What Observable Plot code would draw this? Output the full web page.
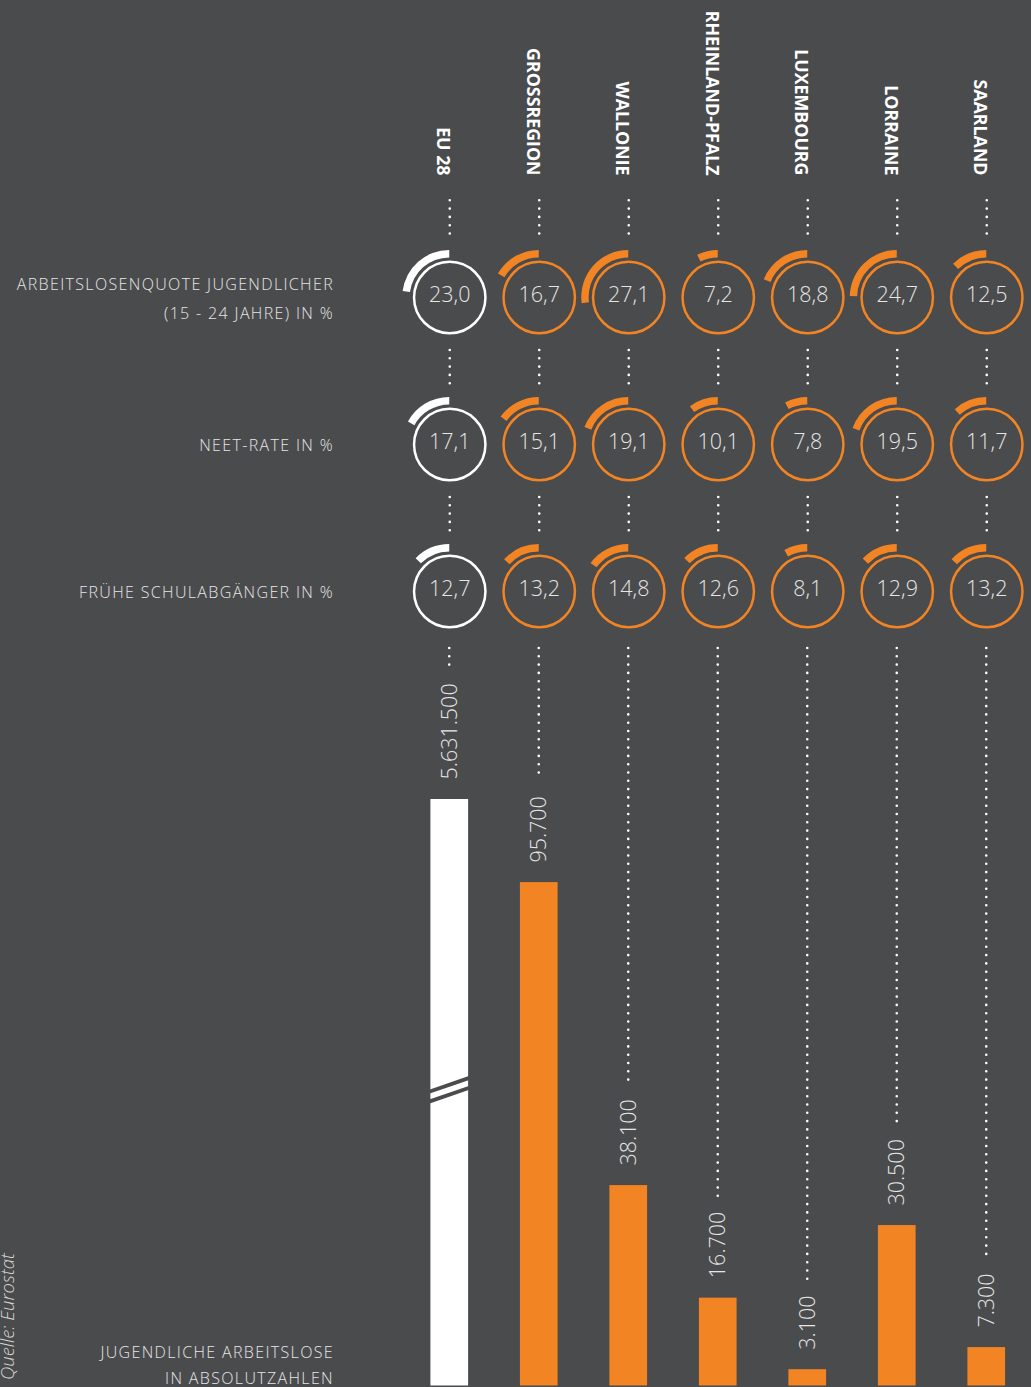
<!DOCTYPE html>
<html>
<head>
<meta charset="utf-8">
<script src="https://cdn.jsdelivr.net/npm/d3@7"></script>
<script src="https://cdn.jsdelivr.net/npm/@observablehq/plot@0.6"></script>
<style>
html, body { margin: 0; padding: 0; background: #4a4b4d; overflow: hidden; }
#chart { position: relative; width: 1031px; height: 1387px; background: #4a4b4d; }
#chart svg { position: absolute; left: 0; overflow: visible; max-width: none; }
#chart [font-size="16"], #chart [font-size="16"] text { letter-spacing: 1.35px; }
</style>
</head>
<body>
<div id="chart"></div>
<script>
// ---------- data ----------
const countries = ["EU 28", "GROSSREGION", "WALLONIE", "RHEINLAND-PFALZ", "LUXEMBOURG", "LORRAINE", "SAARLAND"];
const rowLabels = [
  "ARBEITSLOSENQUOTE JUGENDLICHER\n(15 - 24 JAHRE) IN %",
  "NEET-RATE IN %",
  "FRÜHE SCHULABGÄNGER IN %"
];
const youthUnemploymentRate = [23.0, 16.7, 27.1, 7.2, 18.8, 24.7, 12.5];
const neetRate = [17.1, 15.1, 19.1, 10.1, 7.8, 19.5, 11.7];
const earlyLeaversRate = [12.7, 13.2, 14.8, 12.6, 8.1, 12.9, 13.2];
const youthUnemployedAbs = [5631500, 95700, 38100, 16700, 3100, 30500, 7300];
const barsLabel = "JUGENDLICHE ARBEITSLOSE\nIN ABSOLUTZAHLEN";
const sourceNote = "Quelle: Eurostat";

// ---------- styling ----------
const BG = "#4a4b4d", ORANGE = "#f28423", WHITE = "#ffffff", TXT = "#e6e6e6";
const FONT = "'Open Sans', 'Noto Sans', sans-serif";
const colorOf = c => c === "EU 28" ? WHITE : ORANGE;
const de = d3.formatLocale({decimal: ",", thousands: ".", grouping: [3], currency: ["", " €"]});
const fmtPct = de.format(".1f");
const fmtAbs = de.format(",d");

const series = [youthUnemploymentRate, neetRate, earlyLeaversRate];
const cells = rowLabels.flatMap((m, j) => countries.map((c, i) => ({country: c, metric: m, value: series[j][i]})));
const bars = countries.map((c, i) => ({country: c, value: youthUnemployedAbs[i]}));
const links = countries.flatMap(c => [
  {country: c, a: rowLabels[0], b: rowLabels[1]},
  {country: c, a: rowLabels[1], b: rowLabels[2]}
]);

const xScale = {type: "band", domain: countries, range: [404.5, 1031], padding: 0, round: false, axis: null};
const dotted = {stroke: WHITE, strokeWidth: 2.6, strokeDasharray: "0 8.3", strokeLinecap: "round"};
const numFont = {fontFamily: FONT, fontSize: 21.5, fontWeight: 300, fill: TXT};

// arcs around the circles (share of a full turn = value %)
function arcs(data) {
  return (index, scales) => {
    const {x, y} = scales;
    const g = d3.create("svg:g");
    const arc = d3.arc().innerRadius(39.6).outerRadius(47);
    for (const d of data) {
      const cx = x(d.country) + x.bandwidth() / 2;
      const cy = y(d.metric);
      g.append("path")
        .attr("transform", `translate(${cx},${cy})`)
        .attr("d", arc({startAngle: -2 * Math.PI * d.value / 100, endAngle: 0}))
        .attr("fill", colorOf(d.country));
    }
    return g.node();
  };
}

// dotted leaders down to bar labels + break marks on truncated bar
function barDecor(data) {
  return (index, scales) => {
    const {x, y} = scales;
    const g = d3.create("svg:g");
    const ctx = document.createElement("canvas").getContext("2d");
    ctx.font = `300 21.5px ${FONT}`;
    const maxV = y.domain()[1];
    for (const d of data) {
      const left = x(d.country), bw = x.bandwidth();
      const cx = left + bw / 2;
      const labelTop = y(d.value) - 20 - ctx.measureText(fmtAbs(d.value)).width - 15;
      g.append("line")
        .attr("x1", cx).attr("x2", cx).attr("y1", 8).attr("y2", labelTop)
        .attr("stroke", WHITE).attr("stroke-width", 2.6)
        .attr("stroke-dasharray", "0 8.3").attr("stroke-linecap", "round");
      if (d.value > maxV) {
        const ym = (y(d.value) + y(0)) / 2 - 2.5;
        const x0 = left + 25.9 - 2, x1 = left + bw - 25.9 + 2;
        for (const off of [-4.9, 4.9]) {
          g.append("line")
            .attr("x1", x0).attr("y1", ym + off + 7.2)
            .attr("x2", x1).attr("y2", ym + off - 7.2)
            .attr("stroke", BG).attr("stroke-width", 3.8);
        }
      }
    }
    return g.node();
  };
}

const topPlot = Plot.plot({
  width: 1031, height: 640, margin: 0,
  style: "background: transparent; overflow: visible;",
  x: xScale,
  y: {type: "point", domain: rowLabels, range: [296.7, 591.7], padding: 0, axis: null},
  color: {type: "identity"},
  marks: [
    Plot.ruleX(countries, {x: d => d, y1: () => rowLabels[0], y2: () => rowLabels[0], insetTop: -96.7, insetBottom: 63.2, ...dotted}),
    Plot.ruleX(links, {x: "country", y1: "a", y2: "b", insetTop: 53, insetBottom: 58, ...dotted}),
    Plot.text(countries, {x: d => d, text: d => d, frameAnchor: "top", dy: 175, rotate: 90, textAnchor: "end",
      fontFamily: FONT, fontWeight: 700, fontSize: 17.8, fill: WHITE}),
    Plot.dot(cells, {x: "country", y: "metric", r: 35.7, stroke: d => colorOf(d.country), strokeWidth: 2.5, fill: "none"}),
    arcs(cells),
    Plot.text(cells, {x: "country", y: "metric", text: d => fmtPct(d.value), dy: -2, ...numFont}),
    Plot.text(rowLabels, {y: d => d, text: d => d, frameAnchor: "left", dx: 333.5, dy: -2.5, textAnchor: "end",
      fontFamily: FONT, fontSize: 16, fontWeight: 300, fill: TXT, lineHeight: 1.85})
  ]
});

const bottomPlot = Plot.plot({
  width: 1031, height: 747, marginTop: 159, marginBottom: 1.5, marginLeft: 0, marginRight: 0,
  style: "background: transparent; overflow: visible;",
  x: xScale,
  y: {type: "linear", domain: [0, 111500], clamp: true, axis: null},
  color: {type: "identity"},
  marks: [
    Plot.barY(bars, {x: "country", y: "value", fill: d => colorOf(d.country), insetLeft: 25.9, insetRight: 25.9}),
    barDecor(bars),
    Plot.text(bars, {x: "country", y: "value", text: d => fmtAbs(d.value), rotate: -90, textAnchor: "start", dy: -20, ...numFont}),
    Plot.text([barsLabel], {text: d => d, frameAnchor: "bottom-left", dx: 333.5, dy: -2, textAnchor: "end", lineAnchor: "bottom",
      lineHeight: 1.62, fontFamily: FONT, fontSize: 16, fontWeight: 300, fill: TXT}),
    Plot.text([sourceNote], {text: d => d, frameAnchor: "bottom-left", dx: 13.5, dy: -6, rotate: -90, textAnchor: "start",
      fontFamily: FONT, fontSize: 18.5, fontStyle: "italic", fontWeight: 300, fill: "#d4d4d4"})
  ]
});

const chart = document.getElementById("chart");
topPlot.style.top = "0px";
bottomPlot.style.top = "640px";
chart.append(topPlot, bottomPlot);
for (const el of chart.querySelectorAll('[font-size="16"], [style*="font-size: 16px"]')) el.style.letterSpacing = "1.35px";
</script>
</body>
</html>
